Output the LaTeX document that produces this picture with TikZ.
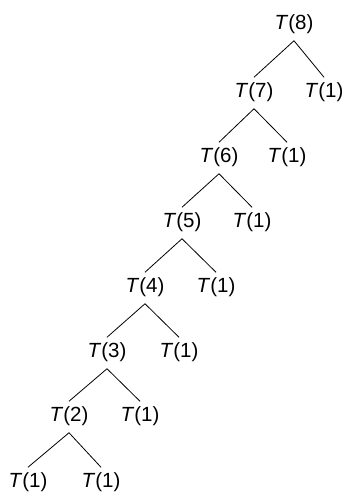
\documentclass[tikz,border=0pt]{standalone}
\usepackage{fontspec}
\setmainfont{Liberation Sans}
\usetikzlibrary{positioning}
\newcommand{\Tcall}[1]{\textit{T}(#1)}

\begin{document}
\begin{tikzpicture}[x=1pt, y=1pt, lbl/.style={font=\fontsize{20.5}{20.5}\selectfont, inner sep=0pt}, edge/.style={line width=0.8pt}]
  \useasboundingbox (0,0) rectangle (344,-492);
  \node (t8) [lbl] at (294,-24) {\Tcall{8}};
  \foreach \n/\x/\rx/\y in {7/254/324/92, 6/219/287/157, 5/182/252/222, 4/145/216/287, 3/107/179/352, 2/69/140/416, 1/28/101/482} {
    \pgfmathtruncatemacro\p{\n+1}
    \node (t\n) [lbl] at (\x,-\y) {\Tcall{\n}};
    \node (r\n) [lbl] at (\rx,-\y) {\Tcall{1}};
    \draw [edge] ([yshift=-7pt]t\p.south) -- ([yshift=5pt]t\n.north);
    \draw [edge] ([yshift=-7pt]t\p.south) -- ([yshift=5pt]r\n.north);
  }
\end{tikzpicture}
\end{document}
